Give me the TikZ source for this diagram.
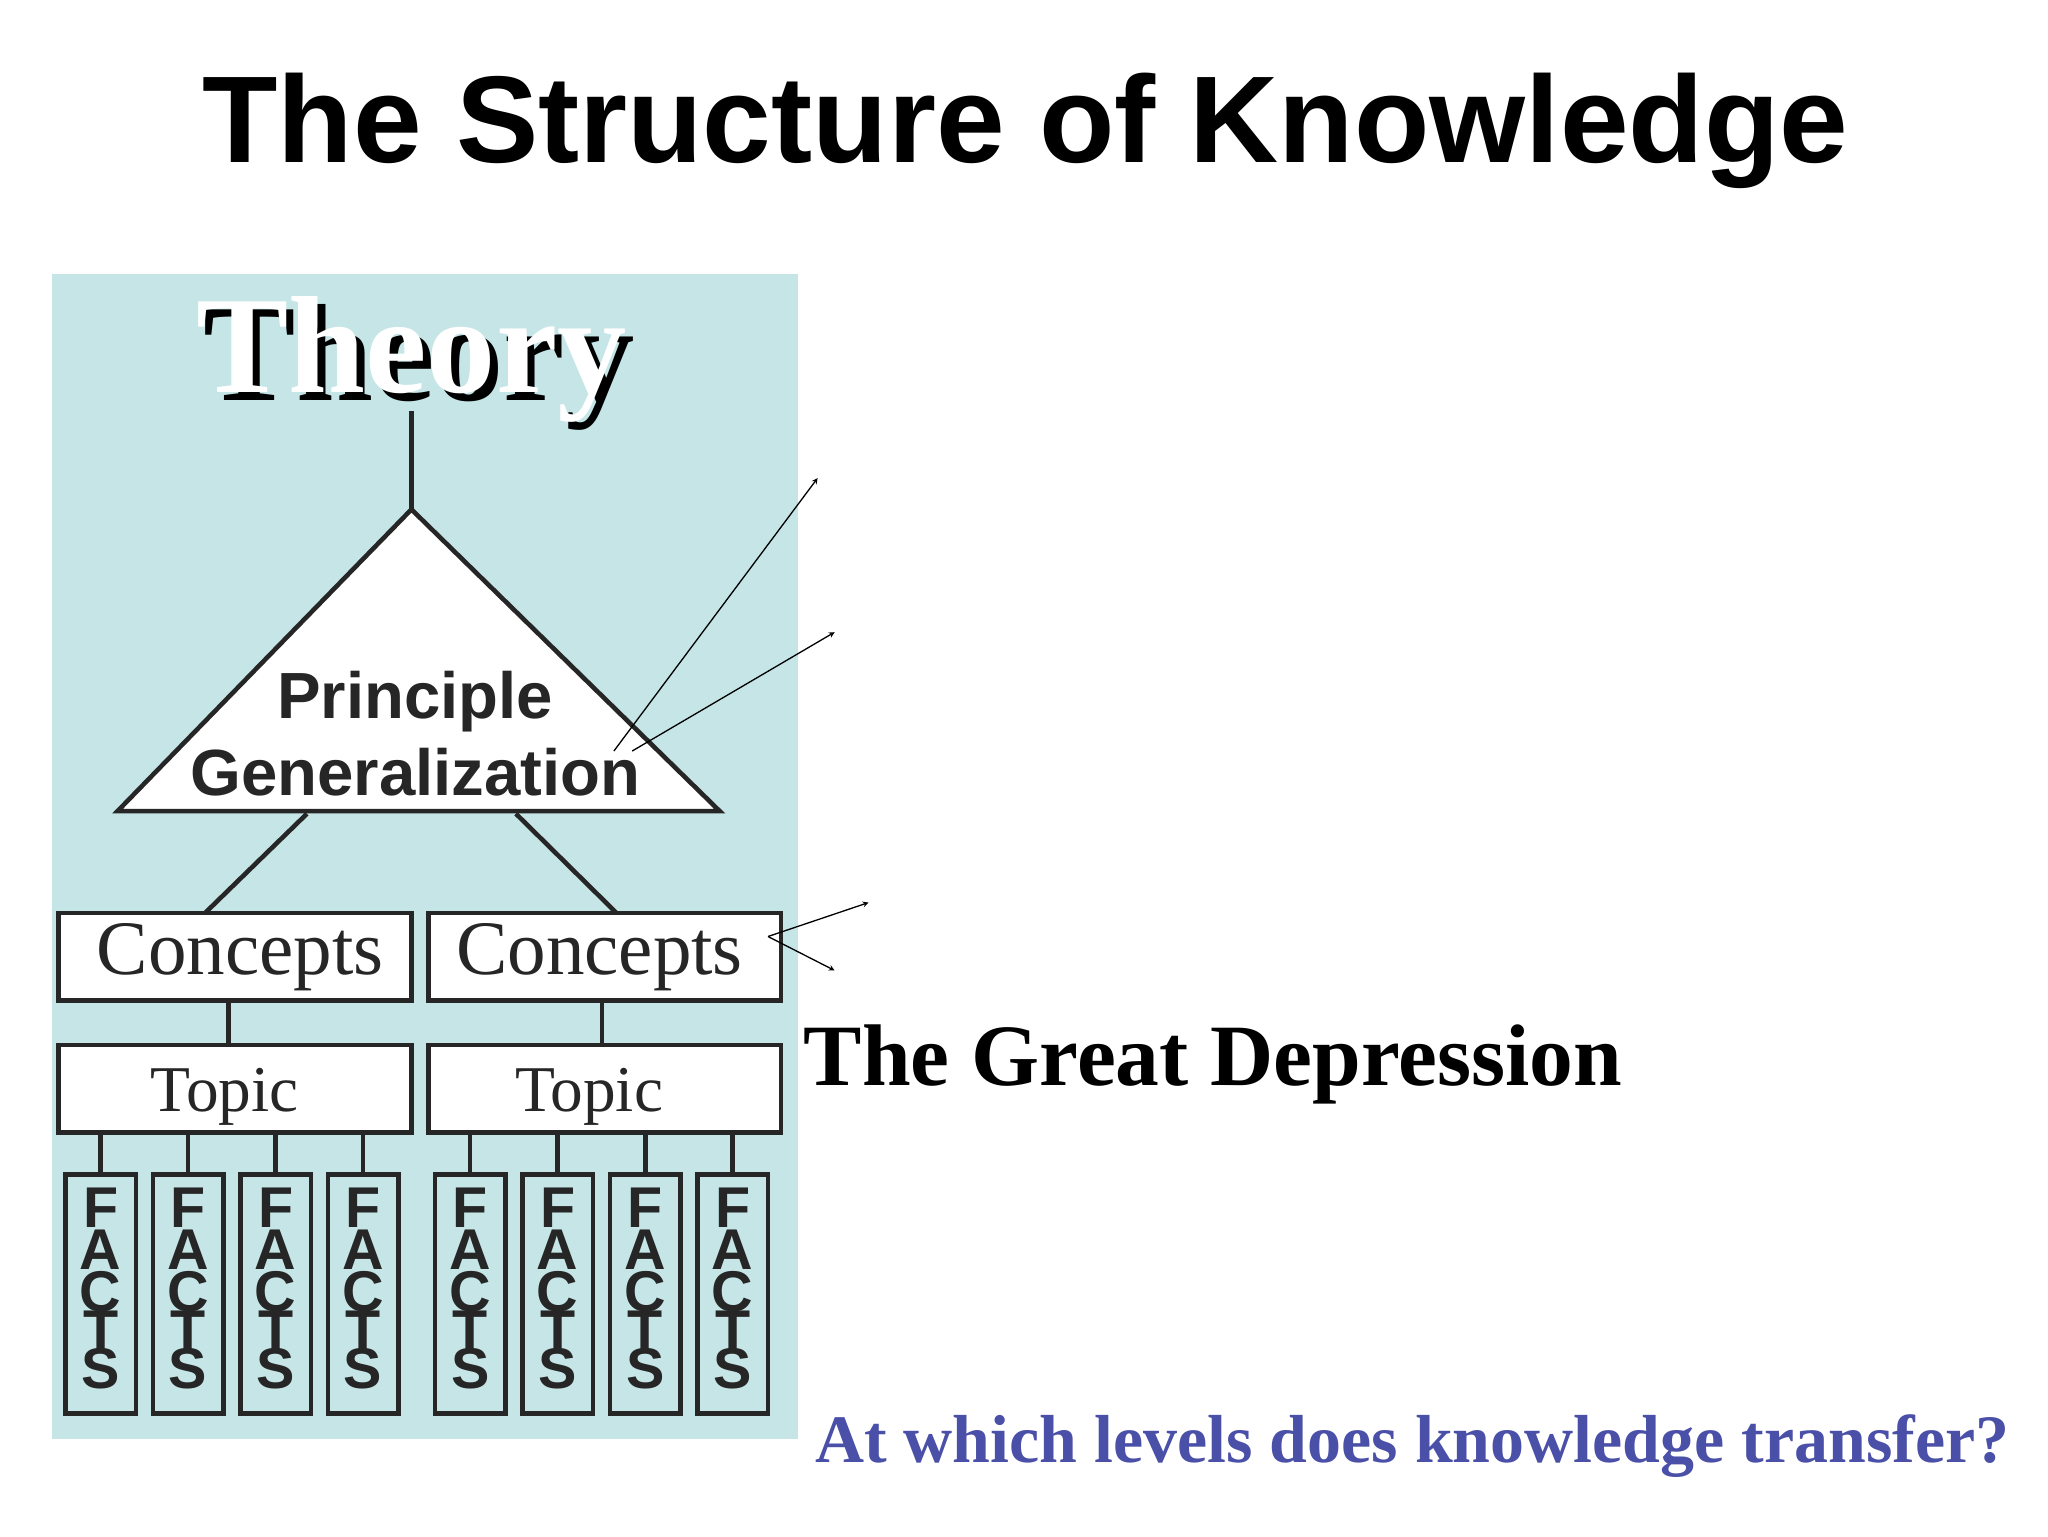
\documentclass[tikz,border=0pt]{standalone}
\usepackage{fontspec}
\setmainfont{Liberation Serif}
\setsansfont{Liberation Sans}
\definecolor{bgblue}{HTML}{C5E5E7}
\definecolor{qblue}{HTML}{4A4FA8}
\begin{document}
\begin{tikzpicture}[x=1pt,y=-1pt,
  box/.style={draw=black!85,line width=3.5pt,fill=white,inner sep=0pt},
  conn/.style={draw=black!85,line width=3.5pt},
  thin/.style={draw=black,line width=1pt,-stealth},
  fact/.style={font=\sffamily\bfseries\fontsize{44}{44}\selectfont,text=black!85,inner sep=0pt}]
\useasboundingbox (0,0) rectangle (1568,1176);
\fill[white] (0,0) rectangle (1568,1176);
\node (title) at (785,100) {\sffamily\bfseries\fontsize{94.5}{100}\selectfont The Structure of Knowledge};
\fill[bgblue] (40,210) rectangle (611,1102);
% Theory
\node (theoryshadow) at (321,281) {\bfseries\fontsize{106}{106}\selectfont Theory};
\node[text=white] (theory) at (315,275) {\bfseries\fontsize{106}{106}\selectfont Theory};
\coordinate (thbot) at (315,315);
\coordinate (apex) at (315,390);
\draw[conn] (thbot) -- (apex);
\draw[conn,fill=white,line join=miter] (apex) -- (90,621) -- (551,621) -- cycle;
\node[font=\sffamily\bfseries\fontsize{50}{50}\selectfont,text=black!85] (princ) at (318,537) {Principle};
\node[font=\sffamily\bfseries\fontsize{50}{50}\selectfont,text=black!85] (gen) at (318,591) {Generalization};
% concepts
\node[box,minimum width=270pt,minimum height=67pt] (c1) at (180,732.5) {};
\node[box,minimum width=270pt,minimum height=67pt] (c2) at (463,732.5) {};
\node[font=\fontsize{59}{59}\selectfont,text=black!85] at ([xshift=4pt]c1) {Concepts};
\node[font=\fontsize{59}{59}\selectfont,text=black!85] at ([xshift=-4pt]c2) {Concepts};
\coordinate (tl) at (235,623); \coordinate (tr) at (395,623);
\draw[conn] (tl) -- (157,699);
\draw[conn] (tr) -- (472,699);
% topics
\node[box,minimum width=270pt,minimum height=67pt] (t1) at (180,833.5) {};
\node[box,minimum width=270pt,minimum height=67pt] (t2) at (463,833.5) {};
\node[font=\fontsize{50}{50}\selectfont,text=black!85] at ([xshift=-8pt,yshift=-6pt]t1) {Topic};
\node[font=\fontsize{50}{50}\selectfont,text=black!85] at ([xshift=-12pt,yshift=-6pt]t2) {Topic};
\draw[conn] (175,766) -- (175,800);
\draw[conn] (461,766) -- (461,800);
% facts
\foreach \x/\n in {77/1,144/2,211/3,278/4,360/5,427/6,494/7,561/8}{
  \node[box,fill=bgblue,minimum width=54pt,minimum height=183pt] (f\n) at (\x,990.5) {};
  \draw[conn] (\x,867) -- (f\n.north);
  \node[fact] at (\x,925) {F};
  \node[fact] at (\x,957) {A};
  \node[fact] at (\x,989) {C};
  \node[fact] at (\x,1019) {T};
  \node[fact] at (\x,1048) {S};
}
% arrows
\coordinate (a1) at (626,366); \coordinate (a2) at (639,484);
\coordinate (a3) at (665,691); \coordinate (a4) at (639,743);
\coordinate (s1) at (470,575); \coordinate (s2) at (484,575); \coordinate (s3) at (588,717);
\draw[thin] (s1) -- (a1);
\draw[thin] (s2) -- (a2);
\draw[thin] (s3) -- (a3);
\draw[thin] (s3) -- (a4);
\node[anchor=west,font=\bfseries\fontsize{67}{67}\selectfont] (gd) at (612,815) {The Great Depression};
\node[anchor=east,font=\bfseries\fontsize{52}{52}\selectfont,text=qblue] (q) at (1542,1107) {At which levels does knowledge transfer?};
\end{tikzpicture}
\end{document}
